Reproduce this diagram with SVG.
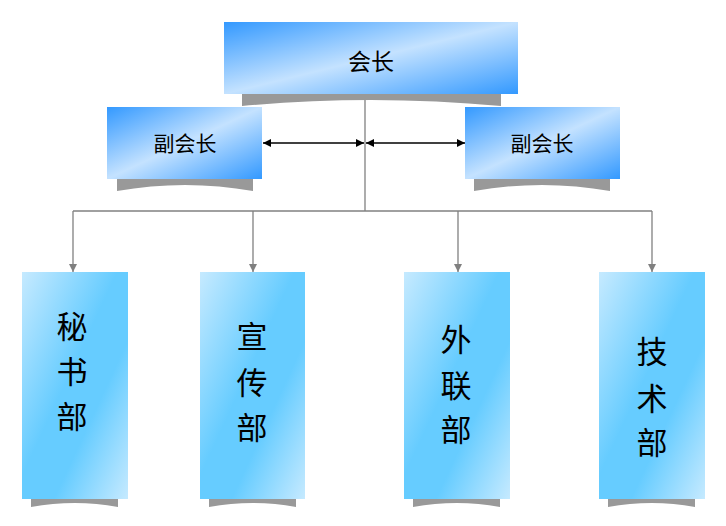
<svg xmlns="http://www.w3.org/2000/svg" width="726" height="526" viewBox="0 0 726 526">
<defs>
<linearGradient id="gTop" x1="0" y1="0" x2="1" y2="1">
<stop offset="0" stop-color="#3399ff"/>
<stop offset="0.5" stop-color="#c4e2ff"/>
<stop offset="1" stop-color="#3399ff"/>
</linearGradient>
<linearGradient id="gDept" x1="0" y1="0" x2="1" y2="1">
<stop offset="0" stop-color="#c6eaff"/>
<stop offset="0.45" stop-color="#66ccff"/>
<stop offset="0.65" stop-color="#66ccff"/>
<stop offset="1" stop-color="#c6eaff"/>
</linearGradient>
<marker id="ab" viewBox="0 0 10 10" refX="10" refY="5" markerWidth="10" markerHeight="8" markerUnits="userSpaceOnUse" orient="auto-start-reverse">
<path d="M0,0 L10,5 L0,10 z" fill="#000"/>
</marker>
<marker id="ag" viewBox="0 0 10 10" refX="10" refY="5" markerWidth="8" markerHeight="8" markerUnits="userSpaceOnUse" orient="auto">
<path d="M0,0 L10,5 L0,10 z" fill="#808080"/>
</marker>
</defs>
<style>
.shadow{fill:#999999}
.top{fill:url(#gTop)}
.dept{fill:url(#gDept)}
.t1{font-family:"Noto Sans CJK SC","Noto Sans CJK TC",sans-serif;fill:#000;text-anchor:middle}
.big{font-size:31px}
.mid{font-size:23px}
.sm{font-size:21px}
.conn{stroke:#808080;stroke-width:1.3;fill:none}
.blk{stroke:#000;stroke-width:1.3;fill:none}
</style>
<g id="connectors">
<line class="conn" x1="365" y1="94" x2="365" y2="211"/>
<line class="conn" x1="73" y1="211" x2="652" y2="211"/>
<line class="conn" x1="73" y1="211" x2="73" y2="272" marker-end="url(#ag)"/>
<line class="conn" x1="253" y1="211" x2="253" y2="272" marker-end="url(#ag)"/>
<line class="conn" x1="458" y1="211" x2="458" y2="272" marker-end="url(#ag)"/>
<line class="conn" x1="652" y1="211" x2="652" y2="272" marker-end="url(#ag)"/>
<line class="blk" x1="263" y1="143" x2="364" y2="143" marker-start="url(#ab)" marker-end="url(#ab)"/>
<line class="blk" x1="366" y1="143" x2="465" y2="143" marker-start="url(#ab)" marker-end="url(#ab)"/>
</g>
<g id="n-president">
<path class="shadow" d="M242,94 H501 V106 Q371,94 242,106 Z"/>
<rect class="top" x="224" y="22" width="294" height="72"/>
<text class="t1 mid" x="371" y="70">会长</text>
</g>
<g id="n-vp-left">
<path class="shadow" d="M117,179 H253 V191 Q185,179 117,191 Z"/>
<rect class="top" x="107" y="107" width="155" height="72"/>
<text class="t1 sm" x="185" y="151">副会长</text>
</g>
<g id="n-vp-right">
<path class="shadow" d="M474,179 H610 V191 Q542,179 474,191 Z"/>
<rect class="top" x="465" y="107" width="155" height="72"/>
<text class="t1 sm" x="542" y="151">副会长</text>
</g>
<g id="n-secretary">
<path class="shadow" d="M31,499 H118 V507 Q75,499 31,507 Z"/>
<rect class="dept" x="22" y="272" width="106" height="227"/>
<text class="t1 big" x="72" y="338">秘</text>
<text class="t1 big" x="72" y="383">书</text>
<text class="t1 big" x="72" y="428">部</text>
</g>
<g id="n-publicity">
<path class="shadow" d="M209,499 H296 V507 Q253,499 209,507 Z"/>
<rect class="dept" x="200" y="272" width="105" height="227"/>
<text class="t1 big" x="252" y="348">宣</text>
<text class="t1 big" x="252" y="394">传</text>
<text class="t1 big" x="252" y="439">部</text>
</g>
<g id="n-external">
<path class="shadow" d="M413,499 H500 V507 Q457,499 413,507 Z"/>
<rect class="dept" x="404" y="272" width="106" height="227"/>
<text class="t1 big" x="456" y="351">外</text>
<text class="t1 big" x="456" y="397">联</text>
<text class="t1 big" x="456" y="441">部</text>
</g>
<g id="n-tech">
<path class="shadow" d="M608,499 H695 V507 Q652,499 608,507 Z"/>
<rect class="dept" x="599" y="272" width="106" height="227"/>
<text class="t1 big" x="652" y="363">技</text>
<text class="t1 big" x="652" y="410">术</text>
<text class="t1 big" x="652" y="454">部</text>
</g>
</svg>
